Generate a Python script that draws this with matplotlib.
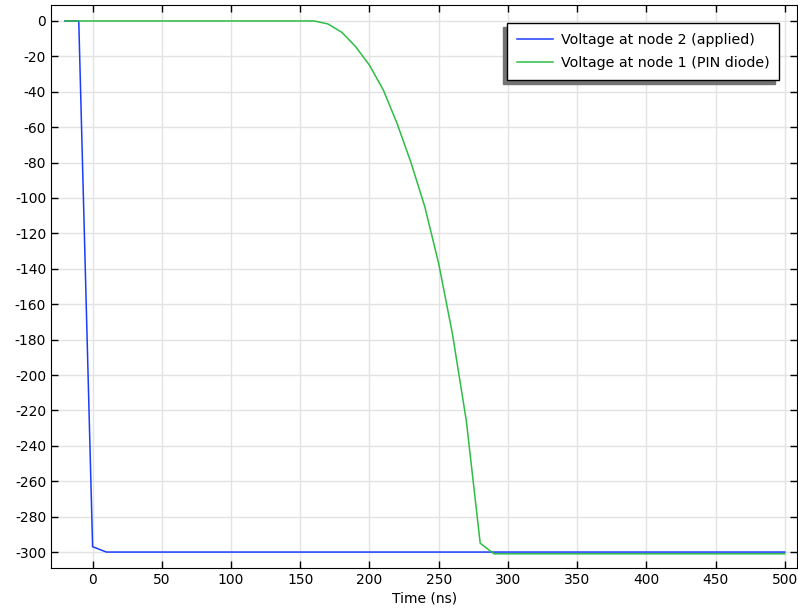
import matplotlib
matplotlib.use("Agg")
import matplotlib.pyplot as plt

plt.rcParams['axes.unicode_minus'] = False
plt.rcParams['font.size'] = 10

# applied voltage at node 2
t_node2 = [-20, -10, 0, 10, 100, 200, 300, 400, 500]
v_node2 = [0, 0, -297, -300, -300, -300, -300, -300, -300]

# voltage at node 1 (PIN diode)
t_node1 = [-20, 0, 50, 100, 150, 160, 170, 180, 190, 200, 210, 220, 230, 240,
           250, 260, 270, 280, 290, 300, 400, 500]
v_node1 = [0, 0, 0, 0, 0, 0, -1.7, -6.4, -14.5, -25, -39, -58, -80, -105,
           -137, -177, -226, -295, -301, -301, -301, -301]

fig = plt.figure(figsize=(7.98, 6.11), dpi=100)
ax = fig.add_axes([0.064, 0.0704, 0.935, 0.9214])

ax.plot(t_node2, v_node2, color='#1a3cff', lw=1.1, label='Voltage at node 2 (applied)')
ax.plot(t_node1, v_node1, color='#2dbd45', lw=1.1, label='Voltage at node 1 (PIN diode)')

ax.set_xlim(-30, 509)
ax.set_ylim(-309, 9)
ax.set_xticks(range(0, 501, 50))
ax.set_yticks(range(-300, 1, 20))
ax.grid(True, color='#e3e3e3', lw=1)
ax.set_axisbelow(True)
ax.tick_params(direction='in', top=True, right=True, length=5, width=1)
ax.set_xlabel('Time (ns)', labelpad=3)

leg = ax.legend(loc='upper right', bbox_to_anchor=(0.976, 0.968), borderaxespad=0,
                fontsize=10.3, handlelength=2.45, handletextpad=0.56,
                labelspacing=0.6, borderpad=0.7,
                fancybox=False, framealpha=1, edgecolor='black',
                shadow={'ox': -3, 'oy': -3, 'color': '0.45', 'alpha': 1})
leg.get_frame().set_linewidth(1)

fig.savefig('out.png', dpi=100)
